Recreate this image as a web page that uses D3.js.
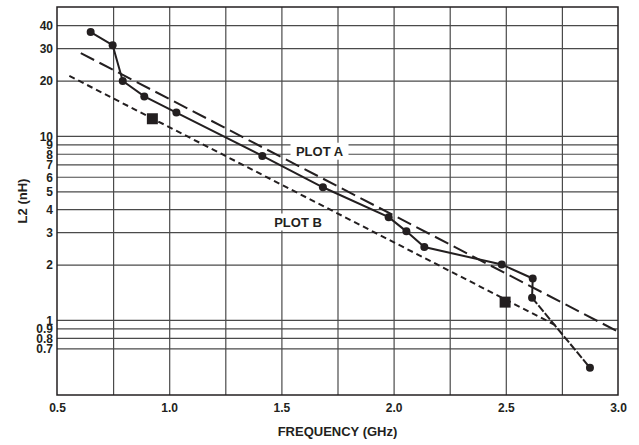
<!DOCTYPE html>
<html>
<head>
<meta charset="utf-8">
<script src="https://cdn.jsdelivr.net/npm/d3@7"></script>
<style>
  body { margin: 0; background: #fff; }
  svg text { font-family: "Liberation Sans", Arial, sans-serif; font-weight: bold; fill: #231f20; }
</style>
</head>
<body>
<svg width="639" height="445"></svg>
<script>
// measured L2 values (plot A, circles joined by a line)
var freqA = [0.65, 0.748, 0.793, 0.889, 1.032, 1.415, 1.685, 1.978, 2.057, 2.137, 2.482, 2.62, 2.617, 2.875];
var l2A = [36.7, 31.1, 19.9, 16.4, 13.4, 7.79, 5.26, 3.62, 3.03, 2.49, 2.0, 1.68, 1.32, 0.55];

// straight fit of plot A (long dashes)
var fitFreqA = [0.606, 3.0];
var fitL2A = [28.2, 0.864];

// plot B (short dashes) and its two squares
var freqB = [0.555, 2.734];
var l2B = [21.2, 0.92];
var sqFreq = [0.925, 2.497];
var sqL2 = [12.4, 1.25];

// axis ticks
var xTicks = [0.5, 1.0, 1.5, 2.0, 2.5, 3.0];
var xGrid = [0.75, 1.0, 1.25, 1.5, 1.75, 2.0, 2.25, 2.5, 2.75];
var yTicks = [40, 30, 20, 10, 9, 8, 7, 6, 5, 4, 3, 2, 1, 0.9, 0.8, 0.7];
var yLabels = ['40', '30', '20', '10', '9', '8', '7', '6', '5', '4', '3', '2', '1', '0.9', '0.8', '0.7'];

// plot box (window.top is read-only, so no "top" here)
var pLeft = 57, pRight = 618, pTop = 7, pBottom = 395;
var svg = d3.select('svg');

var x = d3.scaleLinear().domain([0.5, 3.0]).range([pLeft, pRight]);
var y = d3.scaleLog().domain([0.391, 50.2]).range([pBottom, pTop]);

/******** grid ********/
var gridColor = '#4a4a4a';
svg.append('g')
    .attr('transform', 'translate(' + pLeft + ',0)')
    .call(d3.axisLeft(y).tickValues(yTicks).tickSize(-(pRight - pLeft)).tickFormat(''))
    .call(function(g) {
        g.select('.domain').remove();
        g.selectAll('line').attr('stroke', gridColor).attr('stroke-width', 1.2);
    });
svg.append('g')
    .attr('transform', 'translate(0,' + pBottom + ')')
    .call(d3.axisBottom(x).tickValues(xGrid).tickSize(-(pBottom - pTop)).tickFormat(''))
    .call(function(g) {
        g.select('.domain').remove();
        g.selectAll('line').attr('stroke', gridColor).attr('stroke-width', 1.2);
    });

// tick labels
svg.append('g')
    .attr('transform', 'translate(' + pLeft + ',0)')
    .call(d3.axisLeft(y).tickValues(yTicks).tickSize(0).tickPadding(4)
        .tickFormat(function(d, i) { return yLabels[i]; }))
    .call(function(g) {
        g.select('.domain').remove();
        g.selectAll('text').attr('font-size', 12).attr('dy', '0.36em');
    });
svg.append('g')
    .attr('transform', 'translate(0,' + pBottom + ')')
    .call(d3.axisBottom(x).tickValues(xTicks).tickSize(0).tickPadding(0).tickFormat(d3.format('.1f')))
    .call(function(g) {
        g.select('.domain').remove();
        g.selectAll('text').attr('font-size', 12).attr('dy', null).attr('y', 16.5);
    });

// frame
svg.append('rect')
    .attr('x', pLeft).attr('y', pTop)
    .attr('width', pRight - pLeft).attr('height', pBottom - pTop)
    .attr('fill', 'none').attr('stroke', '#231f20').attr('stroke-width', 1.5);

// axis titles
svg.append('text')
    .attr('x', (pLeft + pRight) / 2).attr('y', 435.5)
    .attr('text-anchor', 'middle').attr('font-size', 13)
    .text('FREQUENCY (GHz)');
svg.append('text')
    .attr('transform', 'translate(26.5,' + (pTop + pBottom) / 2 + ')rotate(-90)')
    .attr('text-anchor', 'middle').attr('font-size', 13)
    .text('L2 (nH)');

/******** plot labels (white box breaks the grid) ********/
function plotLabel(txt, cx, base, w) {
    svg.append('rect')
        .attr('x', cx - w / 2).attr('y', base - 13)
        .attr('width', w).attr('height', 17)
        .attr('fill', '#fff');
    svg.append('text')
        .attr('x', cx).attr('y', base)
        .attr('text-anchor', 'middle').attr('font-size', 13)
        .text(txt);
}
plotLabel('PLOT A', 319.5, 155.7, 58);
plotLabel('PLOT B', 298, 226.5, 56);

/******** lines ********/
var line = d3.line()
    .x(function(d) { return x(d[0]); })
    .y(function(d) { return y(d[1]); });

var ptsA = d3.zip(freqA, l2A);

svg.append('path')
    .datum(d3.zip(fitFreqA, fitL2A))
    .attr('d', line)
    .attr('fill', 'none').attr('stroke', '#231f20').attr('stroke-width', 2)
    .attr('stroke-dasharray', '15,6');

svg.append('path')
    .datum(d3.zip(freqB, l2B))
    .attr('d', line)
    .attr('fill', 'none').attr('stroke', '#231f20').attr('stroke-width', 2)
    .attr('stroke-dasharray', '6,4');

svg.append('path')
    .datum(ptsA.slice(0, ptsA.length - 1))
    .attr('d', line)
    .attr('fill', 'none').attr('stroke', '#231f20').attr('stroke-width', 2);
// last segment is broken in the original
svg.append('path')
    .datum(ptsA.slice(ptsA.length - 2))
    .attr('d', line)
    .attr('fill', 'none').attr('stroke', '#231f20').attr('stroke-width', 2)
    .attr('stroke-dasharray', '8,2');

/******** markers ********/
svg.selectAll('circle.ptA')
    .data(ptsA).enter().append('circle')
    .classed('ptA', true)
    .attr('cx', function(d) { return x(d[0]); })
    .attr('cy', function(d) { return y(d[1]); })
    .attr('r', 4)
    .attr('fill', '#231f20');

var sq = 11;
svg.selectAll('rect.sqB')
    .data(d3.zip(sqFreq, sqL2)).enter().append('rect')
    .classed('sqB', true)
    .attr('x', function(d) { return x(d[0]) - sq / 2; })
    .attr('y', function(d) { return y(d[1]) - sq / 2; })
    .attr('width', sq).attr('height', sq)
    .attr('fill', '#231f20');
</script>
</body>
</html>
